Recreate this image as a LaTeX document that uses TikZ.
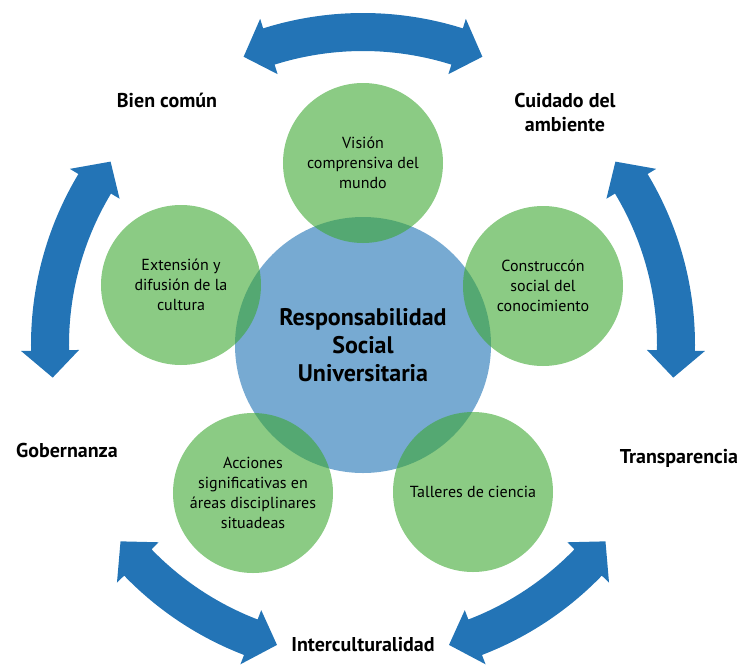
\documentclass[tikz,border=0pt]{standalone}
\usepackage{fontspec}
\setmainfont{PT Sans}
\definecolor{rsublue}{RGB}{119,170,210}
\definecolor{rsugreen}{RGB}{62,168,50}
\definecolor{arrblue}{RGB}{35,116,182}

\begin{document}
\begin{tikzpicture}[x=1pt,y=1pt,
  grn/.style={circle,fill=rsugreen,fill opacity=0.6,text opacity=1,minimum size=160pt,inner sep=0pt,align=center,font=\fontsize{16}{20}\selectfont},
  lab/.style={align=center,font=\bfseries\fontsize{20}{24}\selectfont},
  arr/.style={fill=arrblue}]
\useasboundingbox (-363,-320) rectangle (378,345);
% double arrows around the ring
\foreach \a/\b in {67.5/112.5,144/186,219/254,286/321,-6/36}{
  \fill[arr] (\a:312) -- ({\a+5}:342) -- ({\a+5}:332) arc[start angle={\a+5},end angle={\b-5},radius=332] -- ({\b-5}:342) -- (\b:312) -- ({\b-5}:284) -- ({\b-5}:294) arc[start angle={\b-5},end angle={\a+5},radius=294] -- ({\a+5}:284) -- cycle;
}
\node[circle,fill=rsublue,minimum size=256pt,inner sep=0pt,align=center,font=\bfseries\fontsize{24}{28}\selectfont] (rsu) at (0,0) {Responsabilidad\\Social\\Universitaria};
\node[grn] (vision) at (0,182) {Visión\\comprensiva del\\mundo};
\node[grn] (extension) at (-182,60) {Extensión y\\difusión de la\\cultura};
\node[grn] (construccion) at (180,59) {Construccón\\social del\\conocimiento};
\node[grn] (acciones) at (-110,-148) {Acciones\\significativas en\\áreas disciplinares\\situadeas};
\node[grn] (talleres) at (110,-147) {Talleres de ciencia};
% outer labels
\node[lab] (bien) at (-196,245) {Bien común};
\node[lab] (cuidado) at (202,233) {Cuidado del\\ambiente};
\node[lab] (gobernanza) at (-296,-105) {Gobernanza};
\node[lab] (transparencia) at (316,-113) {Transparencia};
\node[lab] (intercult) at (0,-300) {Interculturalidad};
\end{tikzpicture}
\end{document}
